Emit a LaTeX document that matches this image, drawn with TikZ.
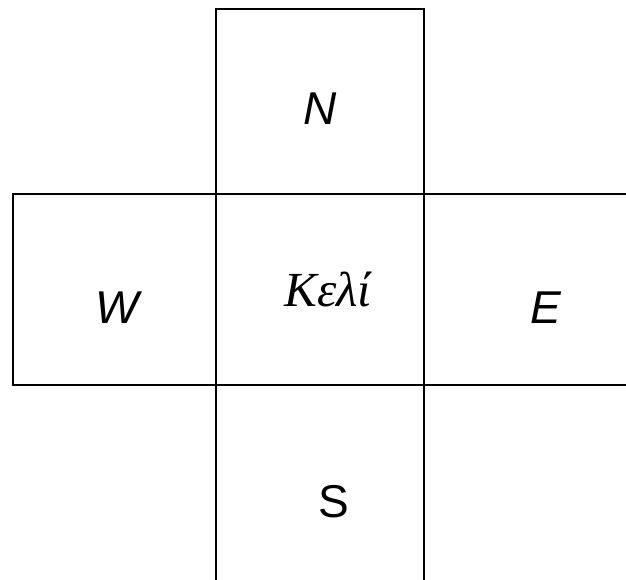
\documentclass[tikz,border=0pt]{standalone}
\usepackage{fontspec}
\setmainfont{Liberation Serif}
\setsansfont{Liberation Sans}
\usetikzlibrary{positioning, calc}

\begin{document}
\begin{tikzpicture}[
      x=1pt, y=-1pt,
      grid/.style={line width=2pt, black},
      dir/.style={anchor=base, inner sep=0pt, font=\sffamily\itshape\fontsize{46}{50}\selectfont},
      cell/.style={anchor=base, inner sep=0pt, font=\itshape\fontsize{49}{53}\selectfont}
    ]
    \useasboundingbox (0,0) rectangle (626,580);

    % cross of cells
    \coordinate (nw) at (216,9);
    \coordinate (ne) at (424,9);
    \coordinate (wt) at (13,194);
    \coordinate (wb) at (13,385);

    \draw[grid] (216,580) -- (nw) -- (ne) -- (424,580);
    \draw[grid] (626,194) -- (wt) -- (wb) -- (626,385);

    \node[cell] (cur) at (328,306) {Κελί};
    \node[dir] (n) at (320,125) {N};
    \node[dir] (w) at (117,323) {W};
    \node[dir] (e) at (546,323) {E};
    \node[dir, font=\sffamily\fontsize{46}{50}\selectfont] (s) at (334,517) {S};
  \end{tikzpicture}
\end{document}
